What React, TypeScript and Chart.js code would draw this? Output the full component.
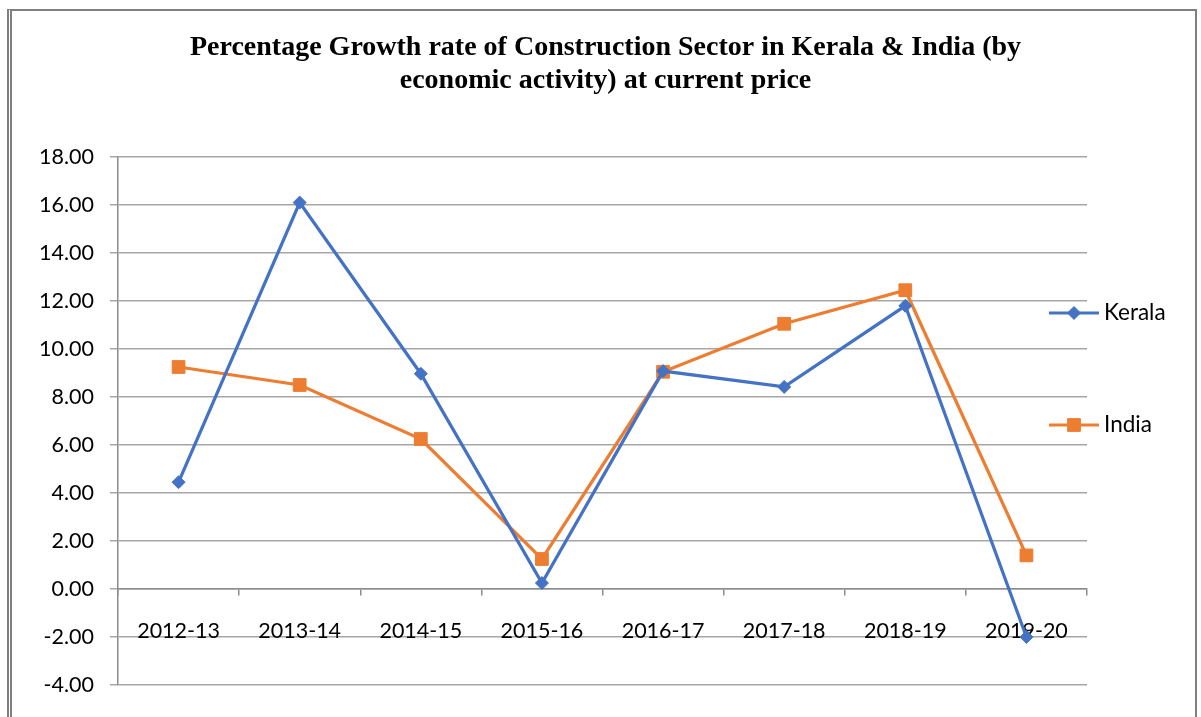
import React, { useEffect, useRef } from "react";
import { Chart, registerables } from "chart.js";

Chart.register(...registerables);

const years = ["2012-13", "2013-14", "2014-15", "2015-16", "2016-17", "2017-18", "2018-19", "2019-20"];
const kerala = [4.45, 16.1, 8.97, 0.25, 9.08, 8.42, 11.8, -2.0];
const india = [9.25, 8.5, 6.25, 1.25, 9.05, 11.05, 12.45, 1.4];
const titleLines = [
  "Percentage Growth rate of Construction Sector in Kerala & India (by",
  "economic activity) at current price",
];
const yMin = -4;
const yMax = 18;
const yStep = 2;

const KERALA_COLOR = "#4472C4";
const INDIA_COLOR = "#ED7D31";
const LABEL_FONT = "Lato";

const decorPlugin = {
  id: "decor",
  afterDraw(chart: any) {
    const ctx = chart.ctx as CanvasRenderingContext2D;
    ctx.save();
    // title
    ctx.fillStyle = "#000";
    ctx.font = "bold 28px 'Liberation Serif'";
    ctx.textAlign = "center";
    ctx.textBaseline = "alphabetic";
    titleLines.forEach((line, i) => ctx.fillText(line, 605.5, 55 + i * 33));

    // legend
    const items = chart.data.datasets.map((ds: any, i: number) => ({
      text: ds.label,
      color: ds.borderColor,
      style: ds.pointStyle,
      radius: ds.pointRadius,
      y: i === 0 ? 313 : 425,
    }));
    items.forEach((it: any) => {
      ctx.strokeStyle = it.color;
      ctx.lineWidth = 3;
      ctx.beginPath();
      ctx.moveTo(1049, it.y);
      ctx.lineTo(1099, it.y);
      ctx.stroke();
      ctx.fillStyle = it.color;
      ctx.strokeStyle = it.color;
      ctx.lineWidth = 1;
      ctx.beginPath();
      if (it.style === "rectRot") {
        const r = it.radius;
        ctx.moveTo(1074, it.y - r);
        ctx.lineTo(1074 + r, it.y);
        ctx.lineTo(1074, it.y + r);
        ctx.lineTo(1074 - r, it.y);
        ctx.closePath();
      } else {
        const s = it.radius * Math.SQRT1_2;
        ctx.rect(1074 - s, it.y - s, 2 * s, 2 * s);
      }
      ctx.fill();
      ctx.stroke();
      ctx.fillStyle = "#000";
      ctx.font = `22.5px ${LABEL_FONT}`;
      ctx.textAlign = "left";
      ctx.textBaseline = "middle";
      ctx.fillText(it.text, 1104, it.y);
    });
    ctx.restore();
  },
};

export default function App() {
  const ref = useRef<HTMLCanvasElement | null>(null);

  useEffect(() => {
    if (!ref.current) return;
    const chart = new Chart(ref.current, {
      type: "line",
      data: {
        labels: years,
        datasets: [
          {
            label: "Kerala",
            data: kerala,
            borderColor: KERALA_COLOR,
            backgroundColor: KERALA_COLOR,
            borderWidth: 3.25,
            pointStyle: "rectRot",
            pointRadius: 6.5,
            pointBorderWidth: 1,
            tension: 0,
          },
          {
            label: "India",
            data: india,
            borderColor: INDIA_COLOR,
            backgroundColor: INDIA_COLOR,
            borderWidth: 3.25,
            pointStyle: "rect",
            pointRadius: 9,
            pointBorderWidth: 1,
            tension: 0,
          },
        ],
      },
      options: {
        responsive: false,
        animation: false,
        layout: { padding: { left: 0, top: 157, right: 114, bottom: 32 } },
        plugins: {
          legend: { display: false },
          title: { display: false },
          tooltip: { enabled: false },
        },
        scales: {
          x: {
            type: "category",
            offset: true,
            position: { y: 0 } as any,
            grid: { drawOnChartArea: false, drawTicks: true, tickLength: 6, color: "#8C8C8C", lineWidth: 1.5, offset: true },
            border: { display: true, color: "#8C8C8C", width: 1.5 },
            ticks: { color: "#000", font: { family: LABEL_FONT, size: 21.5 }, padding: 23, maxRotation: 0, autoSkip: false },
          },
          y: {
            min: yMin,
            max: yMax,
            ticks: {
              stepSize: yStep,
              color: "#000",
              font: { family: LABEL_FONT, size: 21.5 },
              padding: 16,
              callback: (v: any) => Number(v).toFixed(2),
            },
            grid: { color: "#A6A6A6", lineWidth: 1.5, tickLength: 8, drawTicks: true },
            border: { display: true, color: "#8C8C8C", width: 1.5 },
            afterFit: (scale: any) => {
              scale.width = 118;
            },
          },
        },
      },
      plugins: [decorPlugin],
    });
    return () => chart.destroy();
  }, []);

  return (
    <div style={{ position: "fixed", left: 0, top: 0, width: 1201, height: 717, overflow: "hidden", background: "#fff" }}>
      <div
        style={{
          position: "absolute",
          left: 7,
          top: 9,
          width: 1190,
          height: 760,
          boxSizing: "border-box",
          borderTop: "2px solid #7F7F7F",
          borderLeft: "5px double #7F7F7F",
          borderRight: "2px solid #7F7F7F",
        }}
      />
      <canvas ref={ref} width={1201} height={717} style={{ position: "absolute", left: 0, top: 0, display: "block" }} />
    </div>
  );
}
